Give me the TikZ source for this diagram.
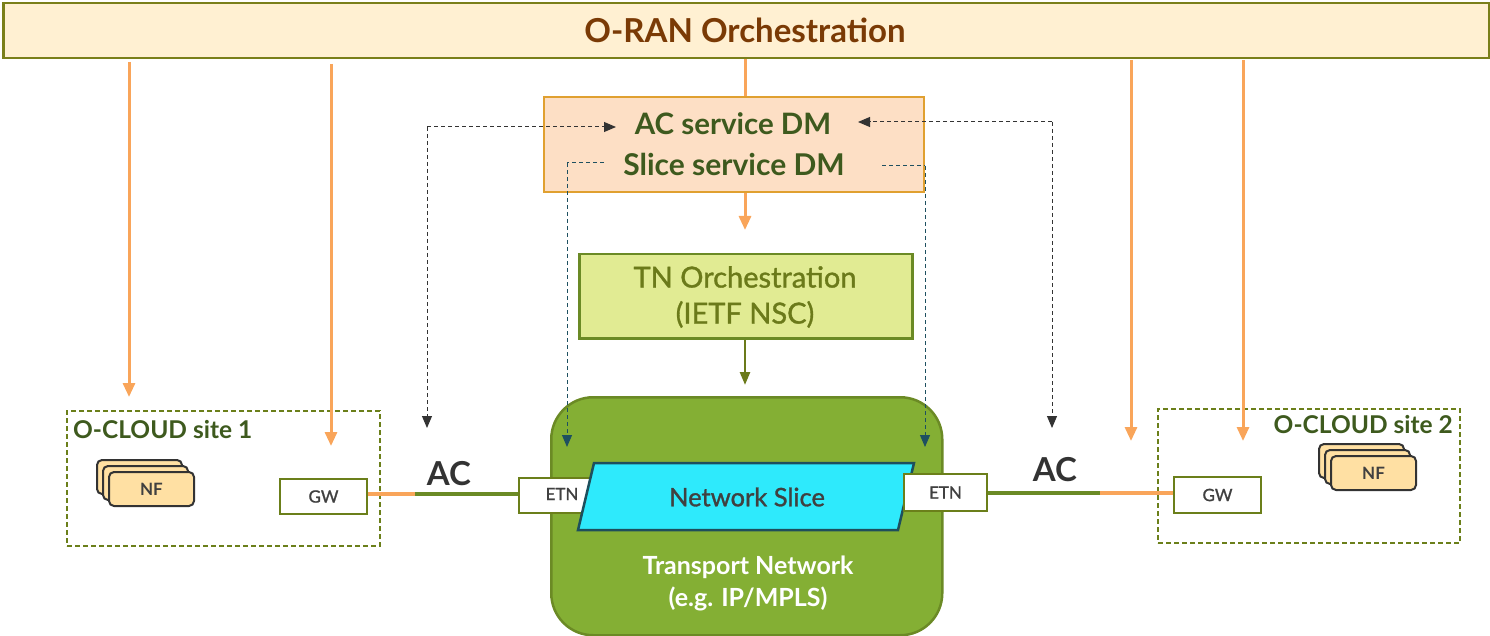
\documentclass[tikz,border=0pt]{standalone}
\usepackage{fontspec}
\setmainfont{Lato}
\newfontfamily\latomed[FakeBold=1.2]{Lato}
\usetikzlibrary{arrows.meta,calc}
\definecolor{bannerfill}{HTML}{FFF0D2}
\definecolor{bannerdraw}{HTML}{7A7F1A}
\definecolor{bannertext}{HTML}{7A3A05}
\definecolor{orng}{HTML}{F9A55A}
\definecolor{dmfill}{HTML}{FDDFC5}
\definecolor{dmdraw}{HTML}{E0A030}
\definecolor{dmtext}{HTML}{3E5A1E}
\definecolor{tnfill}{HTML}{E1EB93}
\definecolor{tndraw}{HTML}{6B8A25}
\definecolor{tntext}{HTML}{6B7A1A}
\definecolor{tpfill}{HTML}{84AF34}
\definecolor{tpdraw}{HTML}{6B8A25}
\definecolor{cyanf}{HTML}{2EEAFC}
\definecolor{cyand}{HTML}{1E4F5C}
\definecolor{nffill}{HTML}{FFE0A3}
\definecolor{darkg}{HTML}{333333}
\definecolor{textg}{HTML}{404040}
\definecolor{teal}{HTML}{1E5060}
\definecolor{boxdraw}{HTML}{6B7F1A}
\definecolor{acgreen}{HTML}{6B8A25}
\tikzset{
  orarrow/.style={draw=orng,line width=3pt,-{Triangle[length=14pt,width=12pt]}},
  dasharrow/.style={draw=darkg,line width=1pt,dash pattern=on 4pt off 3pt,-{Triangle[length=12pt,width=10pt]}},
  tealline/.style={draw=teal,line width=1pt,dash pattern=on 4pt off 3pt},
  tealarrow/.style={tealline,-{Triangle[length=12pt,width=10pt]}},
  smallbox/.style={draw=boxdraw,line width=2pt,fill=white,font=\fontsize{17}{20}\latomed,text=textg,inner sep=0pt},
  nfbox/.style={draw=darkg,line width=2pt,fill=nffill,rounded corners=5pt,minimum width=85pt,minimum height=34pt,font=\fontsize{17}{20}\selectfont\bfseries,text=textg,inner sep=0pt},
  cloudbox/.style={draw=boxdraw,line width=2pt,dash pattern=on 5pt off 3pt},
  cloudlabel/.style={font=\fontsize{24.5}{28}\selectfont\bfseries,text=dmtext,inner sep=0pt},
  aclabel/.style={font=\fontsize{33}{36}\selectfont\bfseries,text=darkg,inner sep=0pt},
}
\begin{document}
\begin{tikzpicture}[x=1pt,y=-1pt]
\useasboundingbox (0,0) rectangle (1490,636);
% banner
\node[draw=bannerdraw,fill=bannerfill,line width=2.5pt,minimum width=1486pt,minimum height=55pt,anchor=north west,inner sep=0pt] (oran) at (2,2) {};
\node[font=\fontsize{33}{36}\selectfont\bfseries,text=bannertext] (orantxt) at (745,30) {O-RAN Orchestration};
% DM box
\node[draw=dmdraw,fill=dmfill,line width=2pt,minimum width=380pt,minimum height=95pt,anchor=north west,inner sep=0pt] (dm) at (543,96) {};
\node[font=\fontsize{29.5}{32}\selectfont\bfseries,text=dmtext] (acdm) at (733,124) {AC service DM};
\node[font=\fontsize{30}{32}\selectfont\bfseries,text=dmtext] (slicedm) at (734,164) {Slice service DM};
% TN box
\node[draw=tndraw,fill=tnfill,line width=2.5pt,minimum width=333pt,minimum height=84pt,anchor=north west,inner sep=0pt] (tn) at (578,253) {};
\node[font=\fontsize{29}{36}\latomed,text=tntext,align=center] (tntxt) at (745,297) {TN Orchestration\\(IETF NSC)};
% transport
\node[draw=tpdraw,fill=tpfill,line width=2.5pt,rounded corners=42pt,minimum width=391pt,minimum height=238pt,anchor=north west,inner sep=0pt] (tp) at (550,396) {};
\node[font=\fontsize{25}{32}\selectfont\bfseries,text=white,align=center] (tptxt) at (748,583) {Transport Network\\(e.g. IP/MPLS)};
% ETN left
\node[smallbox,minimum width=76pt,minimum height=35pt,anchor=north west] (etn1) at (518,477) {};
\node[font=\fontsize{17}{20}\latomed,text=textg] (etn1t) at (562,494) {ETN};
% slice
\coordinate (slice) at (746,497);
\filldraw[fill=cyanf,draw=cyand,line width=2.5pt] ($(slice)+(-152,-34)$) -- ($(slice)+(168,-34)$) -- ($(slice)+(152,33)$) -- ($(slice)+(-168,33)$) -- cycle;
\node[inner sep=0pt,font=\fontsize{25.5}{28}\latomed,text=textg] (slicet) at (747,497) {Network Slice};
% ETN right
\node[smallbox,minimum width=83pt,minimum height=37pt,anchor=north west] (etn2) at (903,473) {ETN};
% GW
\node[smallbox,minimum width=87pt,minimum height=35pt,anchor=north west] (gw1) at (279,478) {GW};
\node[smallbox,minimum width=87pt,minimum height=36pt,anchor=north west] (gw2) at (1173,476) {GW};
% cloud boxes
\node[cloudbox,minimum width=313pt,minimum height=135pt,anchor=north west,inner sep=0pt] (cloud1) at (66,410) {};
\node[cloudlabel,anchor=west] (cloud1t) at (73,430) {O-CLOUD site 1};
\node[cloudbox,minimum width=302pt,minimum height=134pt,anchor=north west,inner sep=0pt] (cloud2) at (1157,408) {};
\node[cloudlabel,anchor=east] (cloud2t) at (1453,425) {O-CLOUD site 2};
% NF stacks
\node[nfbox,anchor=north west] (nf1a) at (96,459) {};
\node[nfbox,anchor=north west] (nf1b) at (102,465) {};
\node[nfbox,anchor=north west] (nf1c) at (108,471) {NF};
\node[nfbox,anchor=north west] (nf2a) at (1318,443) {};
\node[nfbox,anchor=north west] (nf2b) at (1324,449) {};
\node[nfbox,anchor=north west] (nf2c) at (1330,455) {NF};
% AC labels
\node[aclabel] (ac1) at (449,474) {AC};
\node[aclabel] (ac2) at (1055,470) {AC};
% AC links
\coordinate (m1) at (415,494);
\coordinate (m2) at (1100,493);
\draw[orng,line width=4.5pt] (gw1.east |- m1) -- (m1);
\draw[acgreen,line width=4.5pt] (m1) -- (etn1.west |- m1);
\draw[acgreen,line width=4.5pt] (etn2.east |- m2) -- (m2);
\draw[orng,line width=4.5pt] (m2) -- (gw2.west |- m2);
% orange arrows from banner
\coordinate (a1) at (129,397);
\coordinate (a2) at (331,446);
\coordinate (a4) at (1131,441);
\coordinate (a5) at (1243,441);
\draw[orarrow] (a1 |- 0,62) -- (a1);
\draw[orarrow] (a2 |- 0,64) -- (a2);
\draw[orarrow] (a4 |- 0,60) -- (a4);
\draw[orarrow] (a5 |- 0,60) -- (a5);
\coordinate (a0) at (745,96);
\draw[orng,line width=3pt] (oran.south -| a0) -- (a0);
\coordinate (a3) at (745,230);
\draw[orarrow] (dm.south -| a3) -- (a3);
\coordinate (a6) at (745,385);
\draw[draw=tntext,line width=2.5pt,-{Triangle[length=13pt,width=10pt]}] (tn.south -| a6) -- (a6);
% dashed AC arrows
\coordinate (d1) at (427,127);
\coordinate (d1t) at (616,127);
\coordinate (d1e) at (427,428);
\coordinate (d2) at (1052,122);
\coordinate (d2t) at (858,122);
\coordinate (d2e) at (1052,428);
\draw[dasharrow] (d1) -- (d1t);
\draw[dasharrow] (d1) -- (d1e);
\draw[dasharrow] (d2) -- (d2t);
\draw[dasharrow] (d2) -- (d2e);
% teal dashed slice arrows
\coordinate (t0) at (604,163);
\coordinate (t1) at (567,163);
\coordinate (t1e) at (567,447);
\coordinate (t3) at (882,166);
\coordinate (t2) at (925,166);
\coordinate (t2e) at (925,447);
\draw[tealline] (t0) -- (t1);
\draw[tealarrow] (t1) -- (t1e);
\draw[tealline] (t3) -- (t2);
\draw[tealarrow] (t2) -- (t2e);
\end{tikzpicture}
\end{document}
